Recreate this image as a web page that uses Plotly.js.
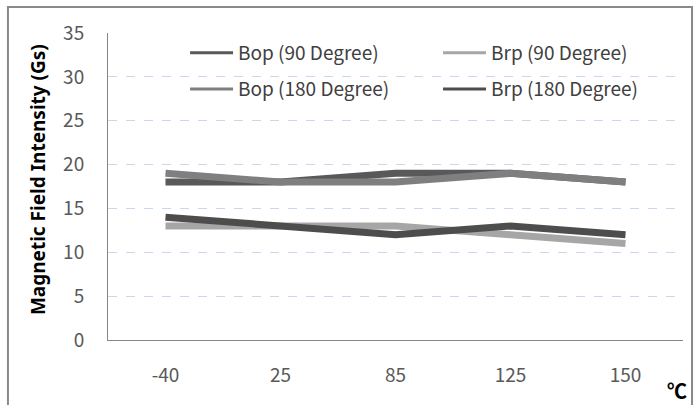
<!DOCTYPE html>
<html><head><meta charset="utf-8">
<script src="https://cdn.plot.ly/plotly-3.0.1.min.js"></script>
<style>body{margin:0;background:#fff}#c{width:695px;height:405px}</style>
</head><body><div id="c"></div>
<script>
const categories = ["-40", "25", "85", "125", "150"];
const bop90 = [18, 18, 19, 19, 18];
const brp90 = [13, 13, 13, 12, 11];
const bop180 = [19, 18, 18, 19, 18];
const brp180 = [14, 13, 12, 13, 12];
const yTicks = [0, 5, 10, 15, 20, 25, 30, 35];
const seriesNames = ['Bop (90 Degree)', 'Brp (90 Degree)', 'Bop (180 Degree)', 'Brp (180 Degree)'];
const seriesColors = ['#595959', '#a6a6a6', '#7f7f7f', '#4d4d4d'];
const seriesValues = [bop90, brp90, bop180, brp180];
const seriesLegend = ['legend', 'legend', 'legend2', 'legend2'];

const data = [];
seriesValues.forEach((y, i) => {
  data.push({type: 'scatter', mode: 'lines', name: seriesNames[i], x: categories, y: y,
    line: {color: seriesColors[i], width: 7}, showlegend: false, hoverinfo: 'skip'});
});
seriesValues.forEach((y, i) => {
  data.push({type: 'scatter', mode: 'lines', name: seriesNames[i], x: [categories[0]], y: [null],
    legend: seriesLegend[i],
    line: {color: seriesColors[i], width: 3}, showlegend: true, hoverinfo: 'skip'});
});
const fam = '"Noto Sans CJK KR", "Noto Sans", sans-serif';
const tickFont = {family: fam, size: 19, color: '#595959'};
const legBase = {orientation: 'h', xanchor: 'left', yanchor: 'top', x: 0.134,
  entrywidth: 195, entrywidthmode: 'pixels', itemwidth: 43, tracegroupgap: 0,
  font: {family: fam, size: 19, color: '#404040'}, bgcolor: 'rgba(0,0,0,0)'};
const layout = {
  width: 695, height: 405,
  margin: {l: 108, r: 12, t: 33, b: 65, autoexpand: false},
  paper_bgcolor: '#fff', plot_bgcolor: '#fff',
  showlegend: true,
  legend: Object.assign({}, legBase, {y: 0.997}),
  legend2: Object.assign({}, legBase, {y: 0.879}),
  xaxis: {type: 'category', range: [-0.5, 4.5], showgrid: false, showline: true, linecolor: '#868686', linewidth: 1,
    ticks: '', tickfont: tickFont, ticklabelstandoff: 18, zeroline: false, fixedrange: true},
  yaxis: {range: [0, 35], tickvals: yTicks, showgrid: true, gridcolor: '#c6d9f1', griddash: 'dash',
    gridwidth: 1, showline: true, linecolor: '#868686', linewidth: 1, ticks: '', tickfont: tickFont,
    ticklabelstandoff: 19, zeroline: false, fixedrange: true},
  shapes: [{type: 'rect', xref: 'paper', yref: 'paper', x0: -0.174, x1: 1.0157, y0: -0.24, y1: 1.0847,
    line: {color: '#898989', width: 2}, fillcolor: 'rgba(0,0,0,0)', layer: 'below'}],
  annotations: [
    {xref: 'paper', yref: 'paper', x: -0.1217, y: 0.521, xanchor: 'center', yanchor: 'middle', textangle: -90,
      text: '<b>Magnetic Field Intensity (Gs)</b>', showarrow: false,
      font: {family: 'Noto Sans, sans-serif', size: 19, color: '#000'}},
    {xref: 'paper', yref: 'paper', x: 0.9896, y: -0.165, xanchor: 'center', yanchor: 'middle',
      text: '<b>℃</b>', showarrow: false, font: {family: fam, size: 20, color: '#000'}}]
};
Plotly.newPlot('c', data, layout, {displayModeBar: false, staticPlot: true});
</script></body></html>
